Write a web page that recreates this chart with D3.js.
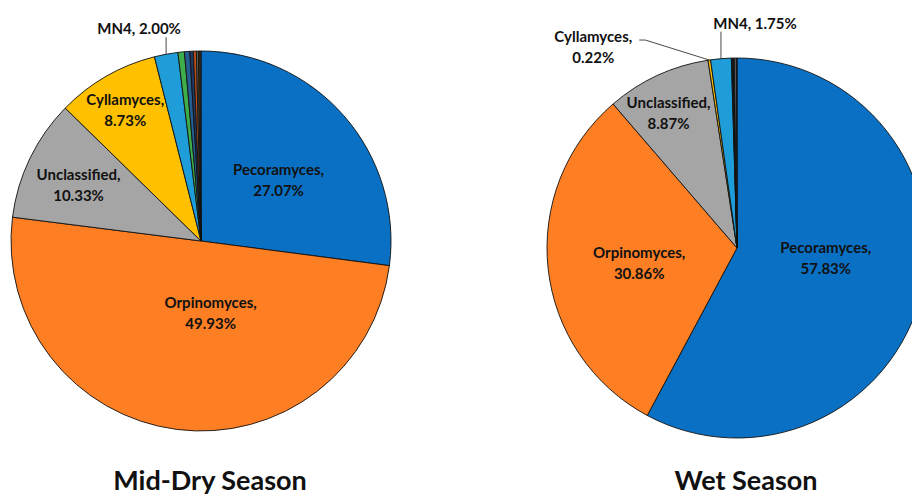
<!DOCTYPE html>
<html>
<head>
<meta charset="utf-8">
<script src="https://cdn.jsdelivr.net/npm/d3@7"></script>
<style>
  body { margin: 0; background: #fff; }
  text { font-family: Lato, "Open Sans", sans-serif; font-weight: bold; fill: #111; }
</style>
</head>
<body>
<div id="chart"></div>
<script>
// genera, in the order Excel drew them (clockwise from 12 o'clock)
var genera = ["Pecoramyces", "Orpinomyces", "Unclassified", "Cyllamyces", "MN4",
              "Other1", "Other2", "Other3", "Other4", "Other5", "Other6", "Other7"];
var dryValues = [27.07, 49.93, 10.33, 8.73, 2.00, 0.55, 0.45, 0.30, 0.25, 0.17, 0.12, 0.10];
var wetValues = [57.83, 30.86, 8.87, 0.22, 1.75, 0.05, 0.08, 0.06, 0.05, 0.18, 0.05, 0.00];
var colors = ["#0A70C4", "#FD7E23", "#A5A5A5", "#FFC000", "#1E9DD9",
              "#3DAE49", "#255E91", "#1F3864", "#C0501A", "#636363", "#997300", "#404040"];
var titles = ["Mid-Dry Season", "Wet Season"];

var width = 912, height = 497;

var svg = d3.select("#chart")
    .append("svg")
    .attr("width", width)
    .attr("height", height);

var color = d3.scaleOrdinal().domain(genera).range(colors);

// label placement: inside labels -> k = fraction of radius, shift = degrees from mid angle
// outside labels -> dx, dy from the slice's edge point, leader drawn to it
var pies = [
    {values: dryValues, title: titles[0], cx: 201, cy: 241, r: 190, tx: 210,
     inside: {"Pecoramyces": {k: 0.52, shift: 3}, "Orpinomyces": {k: 0.38, shift: -15},
              "Unclassified": {k: 0.71, shift: -1}, "Cyllamyces": {k: 0.80, shift: 0}},
     outside: {"MN4": {dx: -27, dy: -26, lines: 1, anchor: "middle", elbow: false}}},
    {values: wetValues, title: titles[1], cx: 737, cy: 248, r: 190, tx: 746,
     inside: {"Pecoramyces": {k: 0.47, shift: -8}, "Orpinomyces": {k: 0.52, shift: -2},
              "Unclassified": {k: 0.80, shift: -2}},
     outside: {"MN4": {dx: 34, dy: -36, lines: 1, anchor: "middle", elbow: false},
               "Cyllamyces": {dx: -116, dy: -14, lines: 2, anchor: "middle", elbow: true}}}
];

var pie = d3.pie().sort(null).value(function(d) { return d.value; });

pies.forEach(function(p) {
    var data = genera.map(function(g, i) { return {name: g, value: p.values[i]}; });
    var arcs = pie(data);
    var arc = d3.arc().innerRadius(0).outerRadius(p.r);

    var g = svg.append("g")
        .attr("transform", "translate(" + p.cx + "," + p.cy + ")");

    g.selectAll("path.slice")
        .data(arcs.filter(function(d) { return d.value > 0; }))
        .enter().append("path")
        .attr("class", "slice")
        .attr("d", arc)
        .attr("fill", function(d) { return color(d.data.name); })
        .attr("stroke", "#111")
        .attr("stroke-width", 0.9)
        .attr("stroke-linejoin", "round");

    arcs.forEach(function(d) {
        var name = d.data.name;
        var mid = (d.startAngle + d.endAngle) / 2;
        var pct = d.value.toFixed(2) + "%";
        if (p.inside[name]) {
            var L = p.inside[name];
            var a = mid + L.shift * Math.PI / 180;
            var x = Math.sin(a) * p.r * L.k, y = -Math.cos(a) * p.r * L.k;
            var t = g.append("text")
                .attr("text-anchor", "middle")
                .style("font-size", "15px");
            t.append("tspan").attr("x", x).attr("y", y - 10.5)
                .attr("dominant-baseline", "central").text(name + ",");
            t.append("tspan").attr("x", x).attr("y", y + 10.5)
                .attr("dominant-baseline", "central").text(pct);
        } else if (p.outside[name]) {
            var O = p.outside[name];
            var ex = Math.sin(mid) * p.r, ey = -Math.cos(mid) * p.r;
            var lx = ex + O.dx, ly = ey + O.dy;
            var pts;
            if (O.elbow) {
                pts = [[ex, ey], [lx + 52, ly - 6], [lx + 46, ly - 6]];
            } else {
                pts = [[ex, ey], [ex, ly + 9]];
            }
            g.append("path")
                .attr("d", d3.line()(pts))
                .attr("fill", "none")
                .attr("stroke", "#333")
                .attr("stroke-width", 0.9);
            var t2 = g.append("text")
                .attr("text-anchor", O.anchor)
                .style("font-size", "15px");
            if (O.lines === 1) {
                t2.append("tspan").attr("x", lx).attr("y", ly)
                    .attr("dominant-baseline", "central").text(name + ", " + pct);
            } else {
                t2.append("tspan").attr("x", lx).attr("y", ly - 10.5)
                    .attr("dominant-baseline", "central").text(name + ",");
                t2.append("tspan").attr("x", lx).attr("y", ly + 10.5)
                    .attr("dominant-baseline", "central").text(pct);
            }
        }
    });

    svg.append("text")
        .attr("x", p.tx)
        .attr("y", 490)
        .attr("text-anchor", "middle")
        .style("font-size", "27px")
        .text(p.title);
});
</script>
</body>
</html>
